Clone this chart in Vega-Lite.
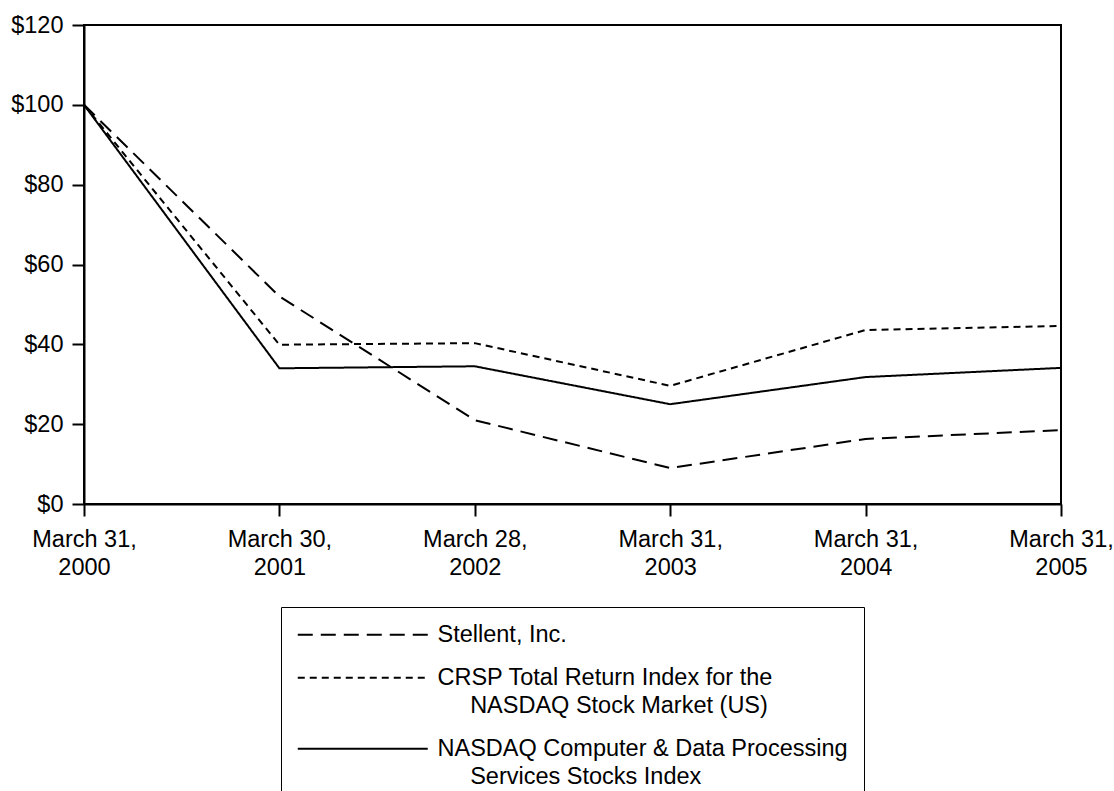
{
  "$schema": "https://vega.github.io/schema/vega-lite/v6.json",
  "width": 977,
  "height": 479,
  "autosize": "none",
  "padding": {"left": 84, "top": 25, "right": 53, "bottom": 287},
  "background": "white",
  "data": {
    "values": [
      {"date": "March 31, 2000", "series": "Stellent, Inc.", "value": 100},
      {"date": "March 30, 2001", "series": "Stellent, Inc.", "value": 52},
      {"date": "March 28, 2002", "series": "Stellent, Inc.", "value": 21},
      {"date": "March 31, 2003", "series": "Stellent, Inc.", "value": 9},
      {"date": "March 31, 2004", "series": "Stellent, Inc.", "value": 16.3},
      {"date": "March 31, 2005", "series": "Stellent, Inc.", "value": 18.5},
      {"date": "March 31, 2000", "series": "CRSP Total Return Index for the NASDAQ Stock Market (US)", "value": 100},
      {"date": "March 30, 2001", "series": "CRSP Total Return Index for the NASDAQ Stock Market (US)", "value": 39.9},
      {"date": "March 28, 2002", "series": "CRSP Total Return Index for the NASDAQ Stock Market (US)", "value": 40.3},
      {"date": "March 31, 2003", "series": "CRSP Total Return Index for the NASDAQ Stock Market (US)", "value": 29.6},
      {"date": "March 31, 2004", "series": "CRSP Total Return Index for the NASDAQ Stock Market (US)", "value": 43.6},
      {"date": "March 31, 2005", "series": "CRSP Total Return Index for the NASDAQ Stock Market (US)", "value": 44.6},
      {"date": "March 31, 2000", "series": "NASDAQ Computer & Data Processing Services Stocks Index", "value": 100},
      {"date": "March 30, 2001", "series": "NASDAQ Computer & Data Processing Services Stocks Index", "value": 34},
      {"date": "March 28, 2002", "series": "NASDAQ Computer & Data Processing Services Stocks Index", "value": 34.5},
      {"date": "March 31, 2003", "series": "NASDAQ Computer & Data Processing Services Stocks Index", "value": 25},
      {"date": "March 31, 2004", "series": "NASDAQ Computer & Data Processing Services Stocks Index", "value": 31.8},
      {"date": "March 31, 2005", "series": "NASDAQ Computer & Data Processing Services Stocks Index", "value": 34.1}
    ]
  },
  "mark": {"type": "line", "color": "black", "strokeWidth": 2},
  "encoding": {
    "x": {
      "field": "date",
      "type": "nominal",
      "sort": null,
      "scale": {"type": "point", "padding": 0},
      "axis": {
        "title": null,
        "labelAngle": 0,
        "labelAlign": "center",
        "labelBaseline": "top",
        "labelPadding": 11,
        "labelLineHeight": 28,
        "tickSize": 12,
        "labelExpr": "[split(datum.label, ' ')[0] + ' ' + split(datum.label, ' ')[1], split(datum.label, ' ')[2]]"
      }
    },
    "y": {
      "field": "value",
      "type": "quantitative",
      "scale": {"domain": [0, 120]},
      "axis": {
        "title": null,
        "values": [0, 20, 40, 60, 80, 100, 120],
        "labelExpr": "'$' + datum.value",
        "tickSize": 12,
        "labelPadding": 9,
        "grid": false
      }
    },
    "strokeDash": {
      "field": "series",
      "type": "nominal",
      "sort": null,
      "scale": {
        "domain": ["Stellent, Inc.", "CRSP Total Return Index for the NASDAQ Stock Market (US)", "NASDAQ Computer & Data Processing Services Stocks Index"],
        "range": [[15, 8], [7, 5], [1, 0]]
      },
      "legend": {
        "title": null,
        "orient": "none",
        "legendX": 197,
        "legendY": 582,
        "padding": 16,
        "strokeColor": "black",
        "symbolType": "M-1.69,0H18.31",
        "symbolSize": 169,
        "symbolStrokeColor": "black",
        "symbolStrokeWidth": 2,
        "symbolFillColor": "transparent",
        "labelOffset": 117,
        "labelLimit": 700,
        "labelFont": "Liberation Sans",
        "labelFontSize": 23.5,
        "labelColor": "black",
        "labelBaseline": "middle",
        "rowPadding": 18,
        "labelExpr": "datum.label === 'Stellent, Inc.' ? datum.label : (indexof(datum.label, 'CRSP') === 0 ? ['CRSP Total Return Index for the', '\u200b\u00a0\u00a0\u00a0\u00a0\u00a0NASDAQ Stock Market (US)'] : ['NASDAQ Computer & Data Processing', '\u200b\u00a0\u00a0\u00a0\u00a0\u00a0Services Stocks Index'])"
      }
    }
  },
  "config": {
    "view": {"stroke": "black", "strokeWidth": 2},
    "style": {"guide-label": {"lineHeight": 28}},
    "axis": {
      "domainColor": "black",
      "domainWidth": 2,
      "tickColor": "black",
      "tickWidth": 2,
      "labelColor": "black",
      "labelFont": "Liberation Sans",
      "labelFontSize": 23.5,
      "grid": false
    }
  }
}
